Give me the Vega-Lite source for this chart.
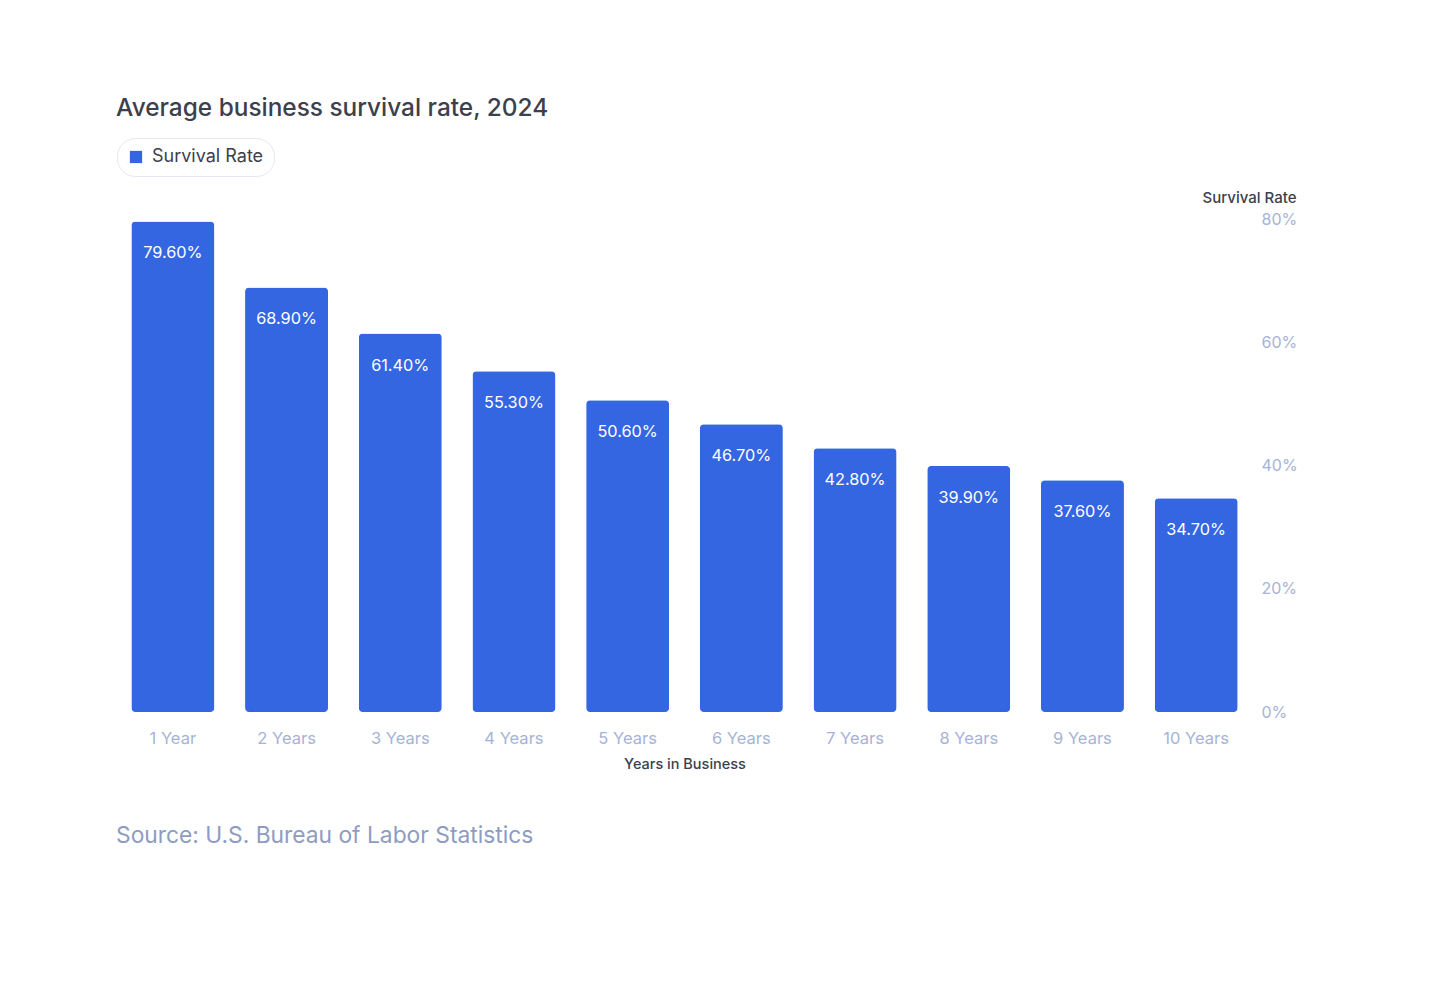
{
  "$schema": "https://vega.github.io/schema/vega-lite/v6.json",
  "padding": {"left": 116, "top": 95, "right": 0, "bottom": 0},
  "background": "white",
  "config": {"font": "Inter", "view": {"stroke": null}},
  "title": {"text": "Source: U.S. Bureau of Labor Statistics", "orient": "bottom", "anchor": "start", "fontSize": 22.8, "fontWeight": "normal", "color": "#8e9cc2", "offset": 54},
  "vconcat": [
    {
      "title": {"text": "Average business survival rate, 2024", "anchor": "start", "fontSize": 24.4, "fontWeight": 500, "color": "#3c404d", "offset": 69},
      "width": 1137,
      "height": 493,
      "data": {"values": [
        {"period": "1 Year", "rate": 0.796},
        {"period": "2 Years", "rate": 0.689},
        {"period": "3 Years", "rate": 0.614},
        {"period": "4 Years", "rate": 0.553},
        {"period": "5 Years", "rate": 0.506},
        {"period": "6 Years", "rate": 0.467},
        {"period": "7 Years", "rate": 0.428},
        {"period": "8 Years", "rate": 0.399},
        {"period": "9 Years", "rate": 0.376},
        {"period": "10 Years", "rate": 0.347}
      ]},
      "encoding": {
        "x": {"field": "period", "type": "nominal", "sort": null,
          "scale": {"paddingInner": 0.27, "paddingOuter": 0.135},
          "axis": {"title": "Years in Business", "labelAngle": 0, "ticks": false, "domain": false, "grid": false,
            "labelFontSize": 16.5, "labelColor": "#a6b3d6", "labelPadding": 18,
            "titleFontSize": 14.5, "titleFontWeight": 500, "titleColor": "#3c404d", "titlePadding": 11}},
        "y": {"field": "rate", "type": "quantitative", "scale": {"domain": [0, 0.8]},
          "axis": {"orient": "right", "offset": 8, "labelPadding": 0, "ticks": false, "domain": false, "grid": false,
            "values": [0, 0.2, 0.4, 0.6, 0.8], "format": ".0%", "labelFontSize": 16, "labelColor": "#a6b3d6",
            "title": "Survival Rate", "titleAngle": 0, "titleAlign": "right", "titleX": 35, "titleY": -22, "titleBaseline": "middle",
            "titleFontSize": 15, "titleFontWeight": 500, "titleColor": "#3c404d"}}
      },
      "layer": [
        {"mark": {"type": "bar", "cornerRadius": 4},
         "encoding": {"color": {"datum": "Survival Rate", "type": "nominal", "scale": {"range": ["#3466e2"]},
           "legend": {"title": null, "orient": "none", "legendX": 1, "legendY": -81, "padding": 10, "cornerRadius": 18,
             "strokeColor": "#e3e7f2", "fillColor": "white", "symbolType": "square", "symbolSize": 150, "symbolStrokeWidth": 0,
             "labelFontSize": 18, "labelColor": "#3c404d", "labelOffset": 7}}}},
        {"mark": {"type": "text", "color": "white", "baseline": "middle", "dy": 32, "fontSize": 16.3},
         "encoding": {"text": {"field": "rate", "format": ".2%"}}}
      ]
    }
  ]
}
